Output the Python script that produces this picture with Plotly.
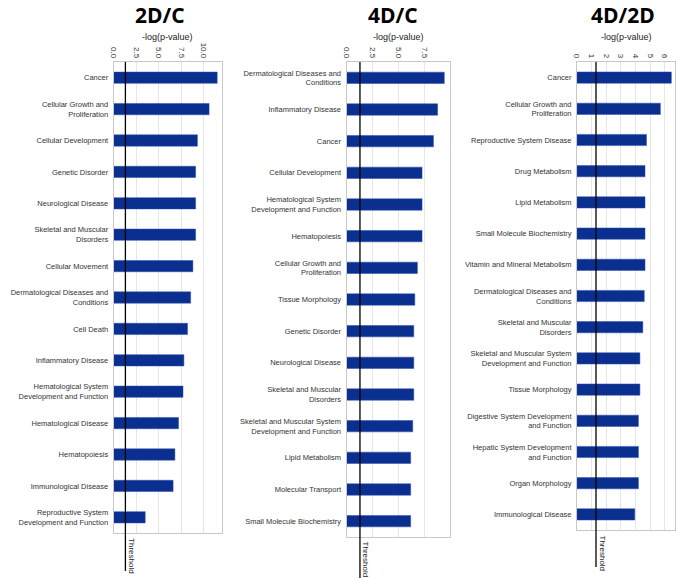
import plotly.graph_objects as go

W, H = 685, 578

# ---- data ----
cats_2dc = ["Cancer", "Cellular Growth and<br>Proliferation", "Cellular Development",
            "Genetic Disorder", "Neurological Disease", "Skeletal and Muscular<br>Disorders",
            "Cellular Movement", "Dermatological Diseases and<br>Conditions", "Cell Death",
            "Inflammatory Disease", "Hematological System<br>Development and Function",
            "Hematological Disease", "Hematopoiesis", "Immunological Disease",
            "Reproductive System<br>Development and Function"]
vals_2dc = [11.5, 10.6, 9.3, 9.1, 9.1, 9.1, 8.8, 8.55, 8.2, 7.8, 7.7, 7.2, 6.8, 6.6, 3.5]

cats_4dc = ["Dermatological Diseases and<br>Conditions", "Inflammatory Disease", "Cancer",
            "Cellular Development", "Hematological System<br>Development and Function",
            "Hematopoiesis", "Cellular Growth and<br>Proliferation", "Tissue Morphology",
            "Genetic Disorder", "Neurological Disease", "Skeletal and Muscular<br>Disorders",
            "Skeletal and Muscular System<br>Development and Function", "Lipid Metabolism",
            "Molecular Transport", "Small Molecule Biochemistry"]
vals_4dc = [9.45, 8.8, 8.4, 7.3, 7.3, 7.3, 6.85, 6.6, 6.5, 6.5, 6.5, 6.4, 6.2, 6.2, 6.2]

cats_4d2d = ["Cancer", "Cellular Growth and<br>Proliferation", "Reproductive System Disease",
             "Drug Metabolism", "Lipid Metabolism", "Small Molecule Biochemistry",
             "Vitamin and Mineral Metabolism", "Dermatological Diseases and<br>Conditions",
             "Skeletal and Muscular<br>Disorders",
             "Skeletal and Muscular System<br>Development and Function", "Tissue Morphology",
             "Digestive System Development<br>and Function",
             "Hepatic System Development<br>and Function", "Organ Morphology",
             "Immunological Disease"]
vals_4d2d = [6.45, 5.7, 4.75, 4.65, 4.65, 4.65, 4.65, 4.6, 4.5, 4.3, 4.3, 4.2, 4.2, 4.2, 3.95]

titles = ["2D/C", "4D/C", "4D/2D"]
threshold = 1.3

ticks_2dc = [0, 2.5, 5, 7.5, 10]
ticktext_2dc = ["0.0", "2.5", "5.0", "7.5", "10.0"]
ticks_4dc = [0, 2.5, 5, 7.5]
ticktext_4dc = ["0.0", "2.5", "5.0", "7.5"]
ticks_4d2d = [0, 1, 2, 3, 4, 5, 6]
ticktext_4d2d = ["0", "1", "2", "3", "4", "5", "6"]

# ---- layout geometry (window pixels) ----
panels = [
    dict(cats=cats_2dc, vals=vals_2dc, x0=113.7, x1=221.7, y0=62, y1=533, rng=[0, 12],
         tv=ticks_2dc, tt=ticktext_2dc, lineend=571, title_x=160),
    dict(cats=cats_4dc, vals=vals_4dc, x0=346.5, x1=450, y0=62, y1=537, rng=[0, 10],
         tv=ticks_4dc, tt=ticktext_4dc, lineend=578, title_x=393),
    dict(cats=cats_4d2d, vals=vals_4d2d, x0=577, x1=675, y0=62, y1=530, rng=[0, 6.7],
         tv=ticks_4d2d, tt=ticktext_4d2d, lineend=567, title_x=623),
]

def px_x(x):
    return x / W

def px_y(y):
    return 1 - y / H

BAR = "#0b2f8f"
FONT = "Liberation Sans"

fig = go.Figure()
layout = dict(width=W, height=H, margin=dict(l=0, r=0, t=0, b=0, autoexpand=False),
              paper_bgcolor="white", plot_bgcolor="white", showlegend=False,
              font=dict(family=FONT, size=8, color="#222"))
annotations = []
shapes = []

for i, p in enumerate(panels):
    n = "" if i == 0 else str(i + 1)
    fig.add_trace(go.Bar(x=p["vals"], y=p["cats"], orientation="h", width=0.36,
                         marker=dict(color=BAR, line=dict(color="#2a4fb0", width=0.5)),
                         xaxis="x" + n, yaxis="y" + n))
    layout["xaxis" + n] = dict(domain=[px_x(p["x0"]), px_x(p["x1"])], range=p["rng"],
                               anchor="y" + n, side="top", tickmode="array",
                               tickvals=p["tv"], ticktext=p["tt"], tickangle=90,
                               tickfont=dict(size=8, color="#333"), showgrid=True,
                               gridcolor="#e6e6e6", gridwidth=1, showline=True,
                               linecolor="#c8c8c8", mirror=True, zeroline=False,
                               ticks="", fixedrange=True, automargin=False)
    layout["yaxis" + n] = dict(domain=[px_y(p["y1"]), px_y(p["y0"])], anchor="x" + n,
                               type="category", autorange="reversed", showgrid=False,
                               showline=True, linecolor="#c8c8c8", mirror=True,
                               tickfont=dict(size=7.5, color="#333"), ticks="",
                               ticklabelstandoff=3, fixedrange=True, automargin=False)
    # threshold line
    shapes.append(dict(type="line", xref="x" + n, yref="paper", x0=threshold, x1=threshold,
                       y0=px_y(p["y0"]), y1=px_y(p["lineend"]),
                       line=dict(color="black", width=1.3)))
    annotations.append(dict(xref="x" + n, yref="paper", x=threshold, y=px_y(p["y1"] + 3),
                            text="Threshold", textangle=90, showarrow=False,
                            xanchor="left", yanchor="top", xshift=0,
                            font=dict(size=8, color="#222")))
    # axis title
    annotations.append(dict(xref="paper", yref="paper", x=px_x((p["x0"] + p["x1"]) / 2),
                            y=px_y(37), text="-log(p-value)", showarrow=False,
                            xanchor="center", yanchor="middle",
                            font=dict(size=9, color="#222")))
    # panel title
    annotations.append(dict(xref="paper", yref="paper", x=px_x(p["title_x"]), y=1,
                            text="<b>" + titles[i] + "</b>", showarrow=False,
                            xanchor="center", yanchor="top", borderpad=0,
                            font=dict(size=21, color="black", family="Open Sans")))

layout["annotations"] = annotations
layout["shapes"] = shapes
fig.update_layout(**layout)
fig.write_html("out.html", config={"displayModeBar": False},
               post_script="document.body.style.margin='0px';")
